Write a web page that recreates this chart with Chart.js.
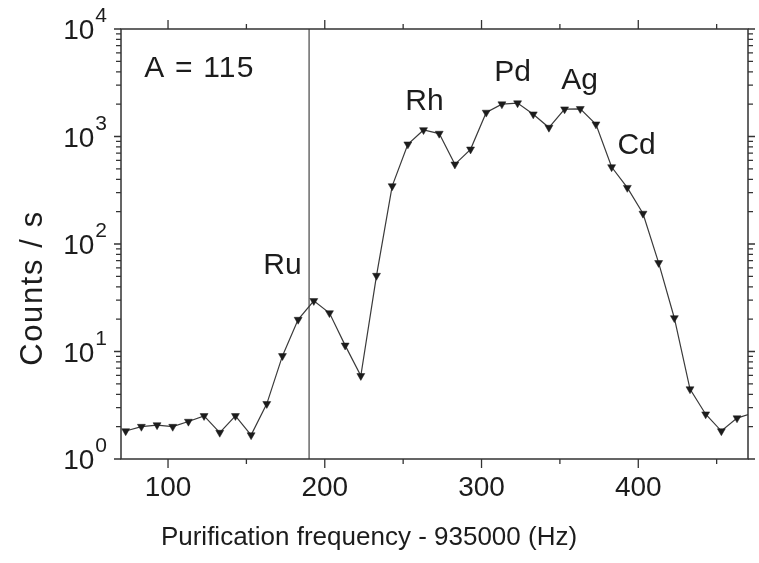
<!DOCTYPE html>
<html>
<head>
<meta charset="utf-8">
<script src="https://cdn.jsdelivr.net/npm/chart.js@4/dist/chart.umd.min.js"></script>
<style>
  html, body { margin: 0; padding: 0; background: #fff; }
</style>
</head>
<body>
<canvas id="spectrum" width="759" height="563"></canvas>
<script>
// purification frequency offset (Hz) and count rate
const freq = [73, 83, 93, 103, 113, 123, 133, 143, 153, 163,
              173, 183, 193, 203, 213, 223, 233, 243, 253, 263,
              273, 283, 293, 303, 313, 323, 333, 343, 353, 363,
              373, 383, 393, 403, 413, 423, 433, 443, 453, 463, 473];
const counts = [1.82, 2.0, 2.07, 2.0, 2.23, 2.52, 1.76, 2.52, 1.67, 3.26,
                9.1, 19.8, 29.6, 22.8, 11.4, 5.94, 50.8, 346, 847, 1151,
                1065, 551, 760, 1672, 2000, 2044, 1611, 1211, 1795, 1810,
                1300, 520, 334, 192, 66.8, 20.5, 4.47, 2.61, 1.82, 2.4, 2.67];

const xMajor = [100, 200, 300, 400];
const xMinor = [150, 250, 350, 450];
const yDecades = [1, 10, 100, 1000, 10000];
const yExponents = ['0', '1', '2', '3', '4'];
const minorSteps = [2, 3, 4, 5, 6, 7, 8, 9];
const ruLine = 190;

const notes = [
  { text: 'A = 115', x: 120, y: 4237 },
  { text: 'Ru', x: 173, y: 63 },
  { text: 'Rh', x: 263.6, y: 2085 },
  { text: 'Pd', x: 319.8, y: 3890 },
  { text: 'Ag', x: 362.5, y: 3275 },
  { text: 'Cd', x: 398.9, y: 829 },
];

const FONT = '"Liberation Sans", Arial, sans-serif';
const INK = '#1c1c1c';

const frame = {
  id: 'frame',
  beforeDatasetsDraw(chart) {
    const { ctx, chartArea: a, scales: { x } } = chart;
    const px = x.getPixelForValue(ruLine);
    ctx.save();
    ctx.strokeStyle = '#6a6a6a';
    ctx.lineWidth = 1.5;
    ctx.beginPath();
    ctx.moveTo(px, a.top);
    ctx.lineTo(px, a.bottom);
    ctx.stroke();
    ctx.restore();
  },
  afterDraw(chart) {
    const { ctx, chartArea: a, scales: { x, y } } = chart;
    ctx.save();
    ctx.strokeStyle = '#333';
    ctx.lineWidth = 1.5;
    ctx.strokeRect(a.left, a.top, a.right - a.left, a.bottom - a.top);

    ctx.lineWidth = 1.3;
    ctx.beginPath();
    const xt = (v, len) => {
      const p = x.getPixelForValue(v);
      ctx.moveTo(p, a.bottom); ctx.lineTo(p, a.bottom + len);
      ctx.moveTo(p, a.top); ctx.lineTo(p, a.top - len);
    };
    xMajor.forEach(v => xt(v, 9));
    xMinor.forEach(v => xt(v, 5));
    const yt = (v, len) => {
      const p = y.getPixelForValue(v);
      ctx.moveTo(a.left, p); ctx.lineTo(a.left - len, p);
      ctx.moveTo(a.right, p); ctx.lineTo(a.right + len, p);
    };
    yDecades.forEach(v => yt(v, 7));
    yDecades.slice(0, -1).forEach(d => minorSteps.forEach(m => yt(d * m, 5)));
    ctx.stroke();

    ctx.fillStyle = INK;
    ctx.font = '28px ' + FONT;
    ctx.textAlign = 'center';
    ctx.textBaseline = 'alphabetic';
    xMajor.forEach(v => ctx.fillText(String(v), x.getPixelForValue(v), a.bottom + 37));

    yDecades.forEach((v, i) => {
      const p = y.getPixelForValue(v);
      ctx.font = '21px ' + FONT;
      ctx.textAlign = 'right';
      const ew = ctx.measureText(yExponents[i]).width;
      ctx.fillText(yExponents[i], a.left - 14, p - 7);
      ctx.font = '28px ' + FONT;
      ctx.fillText('10', a.left - 15 - ew, p + 10);
    });

    ctx.font = '26px ' + FONT;
    ctx.textAlign = 'center';
    ctx.fillText('Purification frequency - 935000 (Hz)', 369, 545);

    ctx.save();
    ctx.translate(42, 288);
    ctx.rotate(-Math.PI / 2);
    ctx.font = '31px ' + FONT;
    ctx.letterSpacing = '1.6px';
    ctx.fillText('Counts / s', 0, 0);
    ctx.restore();

    ctx.font = '30px ' + FONT;
    ctx.textBaseline = 'middle';
    notes.forEach((n, i) => {
      ctx.letterSpacing = i === 0 ? '1.2px' : '0px';
      ctx.fillText(n.text, x.getPixelForValue(n.x), y.getPixelForValue(n.y));
    });
    ctx.restore();
  }
};

new Chart(document.getElementById('spectrum'), {
  type: 'line',
  data: {
    datasets: [{
      data: freq.map((f, i) => ({ x: f, y: counts[i] })),
      borderColor: '#3a3a3a',
      borderWidth: 1.2,
      pointStyle: 'triangle',
      rotation: 180,
      pointRadius: 4.6,
      pointBackgroundColor: INK,
      pointBorderColor: INK,
      pointBorderWidth: 0.5,
      tension: 0,
    }],
  },
  options: {
    responsive: false, animation: false,
    layout: { padding: { left: 121, right: 11, top: 29, bottom: 104 } },
    plugins: { legend: { display: false }, tooltip: { enabled: false } },
    scales: {
      x: { type: 'linear', min: 70, max: 470, display: false },
      y: { type: 'logarithmic', min: 1, max: 10000, display: false },
    },
  },
  plugins: [frame],
});
</script>
</body>
</html>
